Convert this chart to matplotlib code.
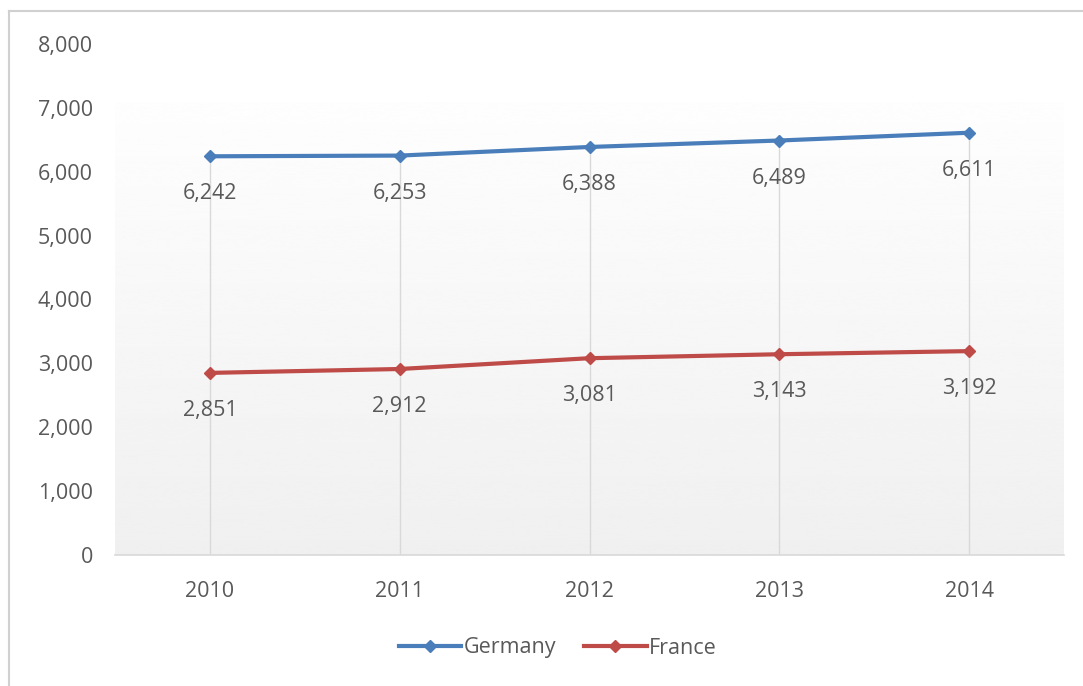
import numpy as np
import matplotlib
matplotlib.use("Agg")
import matplotlib.pyplot as plt
from matplotlib.lines import Line2D
from matplotlib.ticker import FuncFormatter, MultipleLocator

years = ["2010", "2011", "2012", "2013", "2014"]
germany = [6242, 6253, 6388, 6489, 6611]
france = [2851, 2912, 3081, 3143, 3192]
series_names = ["Germany", "France"]

blue = "#4a7ebb"
red = "#be4b48"
text_gray = "#595959"
grid_gray = "#d9d9d9"
fs = 15.5

plt.rcParams["font.family"] = ["Open Sans", "DejaVu Sans"]

fig = plt.figure(figsize=(10.83, 6.86), dpi=100)
ax = fig.add_axes([115 / 1083, 1 - 555 / 686, (1064 - 115) / 1083, (555 - 44) / 686])

x = np.arange(len(years))

ax.set_xlim(-0.5, len(years) - 0.5)
ax.set_ylim(0, 8000)

# plot area fill: white at the top fading to light gray at the bottom
grad = np.linspace(0.995, 0.94, 256).reshape(-1, 1)
ax.imshow(grad, cmap="gray", vmin=0, vmax=1, extent=[-0.5, len(years) - 0.5, 0, 7090],
          aspect="auto", zorder=0, interpolation="bicubic")
ax.set_xlim(-0.5, len(years) - 0.5)
ax.set_ylim(0, 8000)

# drop lines from the top series down to the category axis
top = np.maximum(germany, france)
ax.vlines(x, 0, top, color=grid_gray, lw=1, zorder=1)

ax.plot(x, germany, color=blue, lw=3, marker="D", ms=6.5, zorder=3,
        solid_capstyle="round")
ax.plot(x, france, color=red, lw=3, marker="D", ms=6.5, zorder=3,
        solid_capstyle="round")

for xi, v in zip(x, germany):
    ax.annotate(f"{v:,}", (xi, v), xytext=(0, -27), textcoords="offset points",
                ha="center", va="center", fontsize=fs, color=text_gray, zorder=4)
for xi, v in zip(x, france):
    ax.annotate(f"{v:,}", (xi, v), xytext=(0, -27), textcoords="offset points",
                ha="center", va="center", fontsize=fs, color=text_gray, zorder=4)

ax.yaxis.set_major_locator(MultipleLocator(1000))
ax.yaxis.set_major_formatter(FuncFormatter(lambda v, p: f"{int(v):,}"))
ax.set_xticks(x)
ax.set_xticklabels(years)

ax.tick_params(axis="y", length=0, pad=16, labelsize=fs, labelcolor=text_gray)
ax.tick_params(axis="x", length=0, pad=19, labelsize=fs, labelcolor=text_gray)

for side in ["top", "right", "left"]:
    ax.spines[side].set_visible(False)
ax.spines["bottom"].set_color(grid_gray)
ax.spines["bottom"].set_linewidth(1.2)
ax.set_facecolor("white")

handles = [
    Line2D([0], [0], color=blue, lw=3, marker="D", ms=6.5),
    Line2D([0], [0], color=red, lw=3, marker="D", ms=6.5),
]
fig.legend(handles, series_names, loc="center", bbox_to_anchor=(0.515, 1 - 648 / 686),
           ncol=2, frameon=False, fontsize=fs, labelcolor=text_gray,
           handlelength=2.9, handletextpad=0.12, columnspacing=1.3)

# chart area border (left and top edges)
fig.add_artist(Line2D([9 / 1083, 9 / 1083], [0, 1 - 11 / 686], color="#d0d0d0", lw=1.5,
                      transform=fig.transFigure))
fig.add_artist(Line2D([9 / 1083, 1], [1 - 11 / 686, 1 - 11 / 686], color="#d0d0d0", lw=1.5,
                      transform=fig.transFigure))

fig.savefig("out.png", dpi=100, facecolor="white")
